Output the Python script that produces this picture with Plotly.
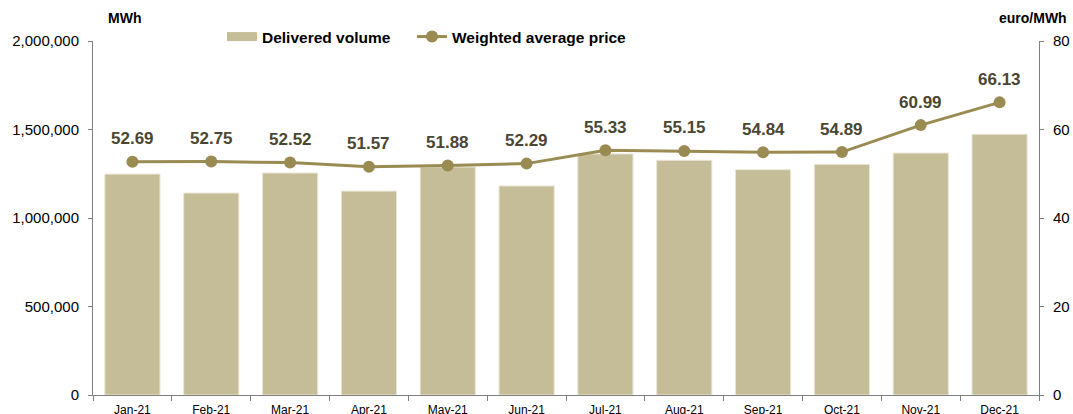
import plotly.graph_objects as go

months = ["Jan-21", "Feb-21", "Mar-21", "Apr-21", "May-21", "Jun-21",
          "Jul-21", "Aug-21", "Sep-21", "Oct-21", "Nov-21", "Dec-21"]
volume = [1248000, 1141000, 1254000, 1152000, 1288000, 1181000,
          1362000, 1326000, 1273000, 1303000, 1367000, 1473000]
price = [52.69, 52.75, 52.52, 51.57, 51.88, 52.29,
         55.33, 55.15, 54.84, 54.89, 60.99, 66.13]

BAR = "#C4BD97"
LINE = "#9A8B52"
LBL = "#4A4632"
AX = "#7F7F7F"
FONT = "Liberation Sans, Arial, sans-serif"

L, R, T, B = 93, 34, 41, 19
W, H = 1073, 414
PW, PH = W - L - R, H - T - B

def px(xp):
    return (xp - L) / PW

def py(yp):
    return (H - B - yp) / PH

fig = go.Figure()
fig.add_trace(go.Bar(
    x=months, y=volume, name="Delivered volume", showlegend=False,
    marker=dict(color=BAR, line=dict(color="#EAE6D6", width=1)),
    width=0.7,
))
# legend proxy for the bar series (wide rectangle symbol)
fig.add_trace(go.Scatter(
    x=[None], y=[None], name="Delivered volume", mode="lines",
    line=dict(color=BAR, width=9), showlegend=True, legend="legend",
))
fig.add_trace(go.Scatter(
    x=months, y=price, name="Weighted average price", yaxis="y2",
    mode="lines+markers",
    line=dict(color=LINE, width=3),
    marker=dict(color=LINE, size=12),
    legend="legend2",
))

for m, p in zip(months, price):
    fig.add_annotation(
        x=m, y=p, xref="x", yref="y2", text=f"<b>{p:.2f}</b>", showarrow=False,
        yshift=23, font=dict(family=FONT, size=17, color=LBL),
    )
fig.add_annotation(xref="paper", yref="paper", x=px(106), y=py(18),
                   xanchor="left", yanchor="middle", text="<b>MWh</b>", showarrow=False,
                   font=dict(family=FONT, size=14, color="#000"))
fig.add_annotation(xref="paper", yref="paper", x=px(1069), y=py(18),
                   xanchor="right", yanchor="middle", text="<b>euro/MWh</b>", showarrow=False,
                   font=dict(family=FONT, size=14, color="#000"))

legfont = dict(family=FONT, size=15.5, color="#000", weight="bold")
fig.update_layout(
    width=W, height=H,
    margin=dict(l=L, r=R, t=T, b=B, autoexpand=False),
    paper_bgcolor="white", plot_bgcolor="white",
    font=dict(family=FONT, size=15, color="#000"),
    showlegend=True,
    legend=dict(orientation="h", x=px(222), y=py(37),
                xanchor="left", yanchor="middle", font=legfont,
                bgcolor="rgba(0,0,0,0)", itemwidth=30),
    legend2=dict(orientation="h", x=px(412), y=py(37),
                 xanchor="left", yanchor="middle", font=legfont,
                 bgcolor="rgba(0,0,0,0)", itemwidth=30),
    xaxis=dict(type="category", range=[-0.5, len(months) - 0.5],
               showline=True, linecolor=AX, linewidth=1,
               ticks="outside", ticklen=5, tickcolor=AX, tickson="boundaries",
               tickfont=dict(size=12), showgrid=False, automargin=False,
               ticklabelstandoff=4),
    yaxis=dict(range=[0, 2000000], tickvals=[0, 500000, 1000000, 1500000, 2000000],
               tickformat=",", showline=True, linecolor=AX, linewidth=1,
               ticks="outside", ticklen=4, tickcolor=AX, showgrid=False,
               zeroline=False, tickfont=dict(size=15), automargin=False,
               ticklabelstandoff=6),
    yaxis2=dict(range=[0, 80], tickvals=[0, 20, 40, 60, 80], overlaying="y", side="right",
                showline=True, linecolor=AX, linewidth=1,
                ticks="outside", ticklen=4, tickcolor=AX, showgrid=False,
                zeroline=False, tickfont=dict(size=15), automargin=False,
                ticklabelstandoff=6),
)

fig.write_html("out.html", config={"displayModeBar": False},
               post_script="document.body.style.margin='0';")
